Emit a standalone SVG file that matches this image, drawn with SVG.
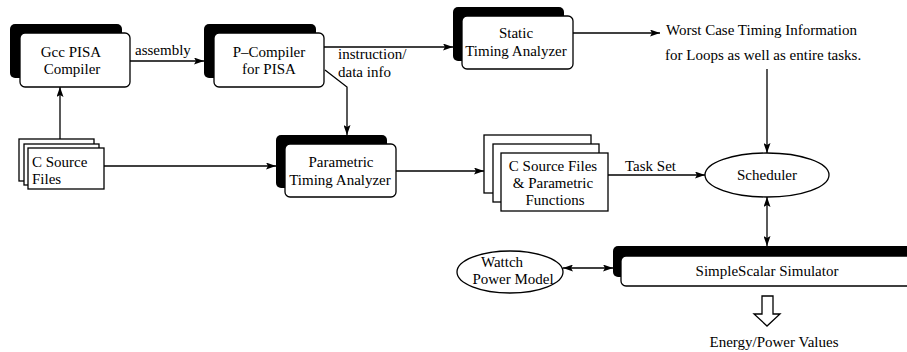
<svg xmlns="http://www.w3.org/2000/svg" width="907" height="352" viewBox="0 0 907 352">
<style>
text{font-family:"Liberation Serif","Times New Roman",serif;font-size:15px;fill:#000}
.c{text-anchor:middle}
.sh{fill:#000}
.bx{fill:#fff;stroke:#000;stroke-width:1.3}
.ln{fill:none;stroke:#000;stroke-width:1.3}
</style>
<defs>
<marker id="ah" markerWidth="11" markerHeight="7" refX="10" refY="3.5" orient="auto-start-reverse" markerUnits="userSpaceOnUse">
<path d="M0,0 L10,3.5 L0,7 L2,3.5 Z" fill="#000"/>
</marker>
</defs>
<rect width="907" height="352" fill="#fff"/>

<g id="gcc">
<rect class="sh" x="10" y="24" width="112" height="54" rx="5"/>
<rect class="bx" x="20" y="33" width="110" height="54" rx="5"/>
<text class="c" x="71" y="57">Gcc PISA</text>
<text class="c" x="72" y="74">Compiler</text>
</g>

<g id="pcompiler">
<rect class="sh" x="204" y="24" width="112" height="54" rx="5"/>
<rect class="bx" x="214" y="33" width="110" height="54" rx="5"/>
<text class="c" x="269" y="57">P–Compiler</text>
<text class="c" x="269" y="74">for PISA</text>
</g>

<g id="static">
<rect class="sh" x="453" y="7" width="111" height="54" rx="5"/>
<rect class="bx" x="462" y="16" width="111" height="53" rx="5"/>
<text class="c" x="516" y="38">Static</text>
<text class="c" x="516" y="56">Timing Analyzer</text>
</g>

<g id="worstcase">
<text x="666" y="35">Worst Case Timing Information</text>
<text x="665" y="60">for Loops as well as entire tasks.</text>
</g>

<g id="csource">
<rect class="bx" x="19" y="139" width="75" height="42"/>
<rect class="bx" x="24" y="144" width="75" height="41"/>
<rect class="bx" x="28" y="148" width="76" height="41"/>
<text x="32" y="167">C Source</text>
<text x="32" y="184">Files</text>
</g>

<g id="parametric">
<rect class="sh" x="276" y="135" width="111" height="53" rx="5"/>
<rect class="bx" x="285" y="144" width="111" height="53" rx="5"/>
<text class="c" x="341" y="167">Parametric</text>
<text class="c" x="340" y="185">Timing Analyzer</text>
</g>

<g id="csource2">
<rect class="bx" x="484" y="135" width="107" height="58"/>
<rect class="bx" x="493" y="144" width="106" height="58"/>
<rect class="bx" x="501" y="153" width="107" height="58"/>
<text class="c" x="553" y="171">C Source Files</text>
<text class="c" x="553" y="188">&amp; Parametric</text>
<text class="c" x="555" y="205">Functions</text>
</g>

<g id="scheduler">
<ellipse class="bx" cx="767" cy="175" rx="62" ry="22"/>
<text class="c" x="767" y="180">Scheduler</text>
</g>

<g id="simplescalar">
<rect class="sh" x="613" y="246" width="310" height="31" rx="5"/>
<rect class="bx" x="621" y="256" width="310" height="30" rx="5"/>
<text class="c" x="767" y="276">SimpleScalar Simulator</text>
</g>

<g id="wattch">
<ellipse class="bx" cx="510" cy="272" rx="53" ry="21"/>
<text class="c" x="502" y="267">Wattch</text>
<text class="c" x="513" y="284">Power Model</text>
</g>

<g id="energy">
<path class="bx" d="M762,296 L773,296 L773,314 L780,314 L767,326 L754,314 L762,314 Z"/>
<text class="c" x="774" y="347">Energy/Power Values</text>
</g>

<g id="connectors">
<line class="ln" x1="130" y1="61" x2="204" y2="61" marker-end="url(#ah)"/>
<text x="135" y="55">assembly</text>
<line class="ln" x1="324" y1="47" x2="453" y2="47" marker-end="url(#ah)"/>
<text x="338" y="59">instruction/</text>
<text x="338" y="77">data info</text>
<polyline class="ln" points="325,70 347,87 347,135" marker-end="url(#ah)"/>
<line class="ln" x1="573" y1="33" x2="660" y2="33" marker-end="url(#ah)"/>
<line class="ln" x1="767" y1="69" x2="767" y2="153" marker-end="url(#ah)"/>
<line class="ln" x1="60" y1="139" x2="60" y2="87" marker-end="url(#ah)"/>
<line class="ln" x1="104" y1="166" x2="276" y2="166" marker-end="url(#ah)"/>
<line class="ln" x1="396" y1="171" x2="484" y2="171" marker-end="url(#ah)"/>
<line class="ln" x1="608" y1="175" x2="705" y2="175" marker-end="url(#ah)"/>
<text x="625" y="171">Task Set</text>
<line class="ln" x1="767" y1="197" x2="767" y2="246" marker-start="url(#ah)" marker-end="url(#ah)"/>
<line class="ln" x1="563" y1="268" x2="613" y2="268" marker-start="url(#ah)" marker-end="url(#ah)"/>
</g>
</svg>
